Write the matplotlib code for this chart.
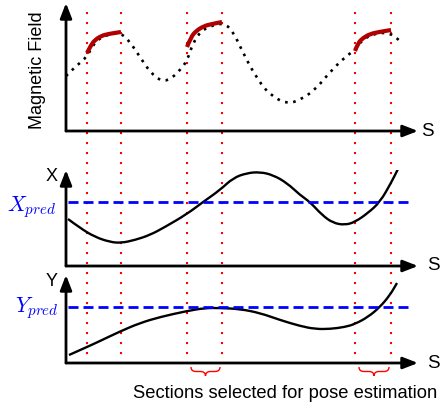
import matplotlib.pyplot as plt
from matplotlib.path import Path
from matplotlib.patches import PathPatch

plt.rcParams['font.family'] = ['Liberation Sans', 'DejaVu Sans']
plt.rcParams['mathtext.fontset'] = 'cm'

# section boundaries along S (shared by all three panels)
sections = [21, 55, 121, 156, 289, 325]
brace_pairs = [(121, 156), (289, 325)]

# magnetic field profile (dotted) and the matched pieces (solid red)
mag_s = [0, 10, 21, 28, 36, 45, 55, 64, 74, 84, 96, 106, 114, 121, 127, 135,
         145, 156, 166, 179, 192, 204, 221, 234, 249, 264, 279, 289, 296, 309,
         325, 336]
mag_v = [55, 65, 74, 88, 94, 97, 98, 89, 74, 59, 49, 53, 61, 70, 88, 100,
         105, 108, 102, 74, 51, 36, 27, 31, 41, 59, 74, 81, 91, 98, 98, 88]
red_segments = [
    ([21, 25, 29, 35, 42, 55], [78, 86, 91, 95, 97, 99]),
    ([121, 125, 130, 138, 146, 156], [84, 94, 100, 105, 107, 109]),
    ([289, 292, 297, 304, 313, 325], [80, 88, 93, 97, 99, 101]),
]

# X position along S
x_s = [2, 14, 29, 44, 55, 69, 84, 99, 121, 137, 154, 167, 181, 194, 207, 221,
       234, 244, 256, 267, 279, 289, 302, 314, 325, 332]
x_v = [47, 38, 29, 24, 23, 26, 31, 39, 52, 64, 76, 88, 93, 94, 91, 83,
       71, 64, 51, 43, 41, 44, 53, 64, 83, 97]
x_pred = 64

# Y position along S
y_s = [3, 21, 34, 55, 74, 94, 121, 139, 154, 174, 194, 214, 234, 249, 264,
       279, 289, 302, 314, 324, 331]
y_v = [8, 16, 22, 32, 40, 46, 52, 55, 55, 54, 50, 43, 37, 34, 34,
       36, 39, 46, 56, 68, 80]
y_pred = 56

W, H = 440, 412
fig = plt.figure(figsize=(4.4, 4.12), dpi=100)

def panel(top_px, bottom_px):
    ax = fig.add_axes([66 / W, (H - bottom_px) / H, 352 / W, (bottom_px - top_px) / H])
    ax.set_xlim(0, 352)
    ax.set_ylim(0, bottom_px - top_px)
    ax.axis('off')
    arrow = dict(arrowstyle='-|>,head_length=0.9,head_width=0.35', lw=2,
                 color='black', shrinkA=0, shrinkB=0)
    ax.annotate('', xy=(0, 1), xytext=(0, 0), xycoords='axes fraction', arrowprops=arrow)
    ax.annotate('', xy=(1, 0), xytext=(0, 0), xycoords='axes fraction', arrowprops=arrow)
    return ax

#smooth curve through the read points (quadratic bezier between midpoints)
def smooth(ax, s, v, **kw):
    pts = list(zip(s, v))
    verts = [pts[0]]
    codes = [Path.MOVETO]
    for i in range(1, len(pts) - 1):
        mid = ((pts[i][0] + pts[i + 1][0]) / 2, (pts[i][1] + pts[i + 1][1]) / 2)
        verts += [pts[i], mid]
        codes += [Path.CURVE3, Path.CURVE3]
    verts.append(pts[-1])
    codes.append(Path.LINETO)
    ax.add_patch(PathPatch(Path(verts, codes), fill=False, **kw))

# overlay for the shared section markers and captions (S along x, pixels down y)
ov = fig.add_axes([0, 0, 1, 1])
ov.set_xlim(-66, 374)
ov.set_ylim(H, 0)
ov.axis('off')

ax1 = panel(3, 131)
ax2 = panel(170, 266)
ax3 = panel(275, 363)

#top: magnetic field
smooth(ax1, mag_s, mag_v, edgecolor='black', lw=1.9, linestyle=(0, (1, 2.1)))
for s, v in red_segments:
    smooth(ax1, s, v, edgecolor='#b00000', lw=3, capstyle='butt')

#middle: X
ax2.axhline(x_pred, xmin=2 / 352, xmax=342 / 352, color='blue', lw=2, linestyle=(0, (3.6, 1.8)))
smooth(ax2, x_s, x_v, edgecolor='black', lw=1.7)

#bottom: Y
ax3.axhline(y_pred, xmin=2 / 352, xmax=342 / 352, color='blue', lw=2, linestyle=(0, (3.6, 1.8)))
smooth(ax3, y_s, y_v, edgecolor='black', lw=1.7)

# red dotted section lines through all panels
for s in sections:
    ov.plot([s, s], [12, 361], color='red', lw=1.5, linestyle=(0, (1, 3.8)))

# under-braces marking the selected sections
def brace(x0, x1, y0, h):
    xm = (x0 + x1) / 2
    r = 5
    verts = [(x0, y0), (x0, y0 + h / 2), (x0 + r, y0 + h / 2),
             (xm - r, y0 + h / 2), (xm, y0 + h / 2), (xm, y0 + h),
             (xm, y0 + h / 2), (xm + r, y0 + h / 2),
             (x1 - r, y0 + h / 2), (x1, y0 + h / 2), (x1, y0)]
    codes = [Path.MOVETO, Path.CURVE3, Path.CURVE3, Path.LINETO, Path.CURVE3, Path.CURVE3,
             Path.CURVE3, Path.CURVE3, Path.LINETO, Path.CURVE3, Path.CURVE3]
    ov.add_patch(PathPatch(Path(verts, codes), fill=False, edgecolor='red', lw=1))

for a, b in brace_pairs:
    brace(a + 4, b - 2, 367, 9)

ov.text(219, 393, 'Sections selected for pose estimation', fontsize=13.2,
        ha='center', va='center')
ov.text(-29, 70, 'Magnetic Field', fontsize=13, rotation=90, ha='center', va='center')
for yy in [131, 266, 363]:
    ov.text(361 if yy == 131 else 367, yy, 'S', fontsize=13.5, ha='center', va='center')
ov.text(-14, 176, 'X', fontsize=13, ha='center', va='center')
ov.text(-14, 282, 'Y', fontsize=13, ha='center', va='center')
ov.text(-34, 207, r'$X_{pred}$', fontsize=15.5, color='blue', ha='center', va='center')
ov.text(-29, 308, r'$Y_{pred}$', fontsize=15.5, color='blue', ha='center', va='center')

fig.savefig('out.png', dpi=100)
